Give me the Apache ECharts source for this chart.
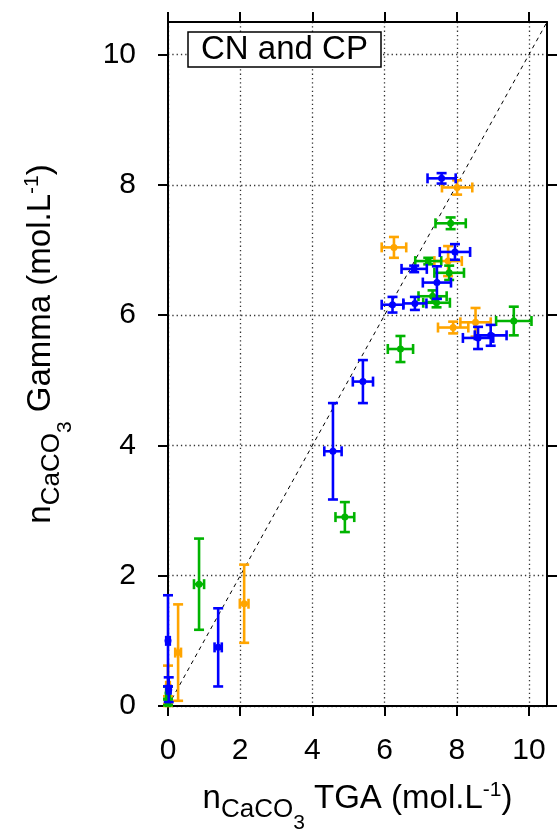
<!DOCTYPE html>
<html>
<head>
<meta charset="utf-8">
<script src="https://cdn.jsdelivr.net/npm/echarts@6/dist/echarts.min.js"></script>
<style>
html, body { margin: 0; padding: 0; background: #fff; }
#chart { width: 557px; height: 831px; }
</style>
</head>
<body>
<div id="chart"></div>
<script>
// tick positions shared by both axes
const tickValues = [0, 2, 4, 6, 8, 10]
const axisRange = [0, 10.5]

// blue series: x (TGA), y (Gamma), x error, y error
const blueX = [7.58, 7.95, 6.82, 7.45, 6.84, 6.22, 8.59, 8.94, 5.40, 4.57, 1.39, 0.00, 0.02]
const blueY = [8.10, 6.97, 6.71, 6.50, 6.18, 6.16, 5.65, 5.69, 4.98, 3.91, 0.90, 1.00, 0.25]
const blueXErr = [0.39, 0.42, 0.35, 0.39, 0.32, 0.30, 0.42, 0.44, 0.28, 0.24, 0.10, 0.05, 0.05]
const blueYErr = [0.08, 0.12, 0.05, 0.25, 0.10, 0.12, 0.17, 0.16, 0.33, 0.74, 0.60, 0.70, 0.19]

// green series
const greenX = [7.83, 7.21, 7.79, 7.33, 7.44, 9.58, 6.44, 4.90, 0.86, 0.00, 0.00]
const greenY = [7.41, 6.83, 6.65, 6.29, 6.19, 5.91, 5.48, 2.90, 1.87, 0.20, 0.06]
const greenXErr = [0.42, 0.36, 0.41, 0.39, 0.37, 0.49, 0.35, 0.26, 0.14, 0.05, 0.05]
const greenYErr = [0.09, 0.05, 0.11, 0.09, 0.07, 0.22, 0.20, 0.23, 0.70, 0.10, 0.05]

// orange series
const orangeX = [8.01, 6.26, 7.76, 7.90, 8.52, 2.11, 0.28, 0.00, 0.00]
const orangeY = [7.96, 7.04, 6.83, 5.81, 5.89, 1.57, 0.82, 0.31, 0.09]
const orangeXErr = [0.42, 0.34, 0.38, 0.42, 0.42, 0.12, 0.08, 0.05, 0.05]
const orangeYErr = [0.11, 0.16, 0.23, 0.09, 0.22, 0.60, 0.74, 0.31, 0.06]

const FONT = 'Liberation Sans, Arial, sans-serif'

function zip (xs, ys, xe, ye) {
  return xs.map((x, i) => [x, ys[i], xe[i], ye[i]])
}

// draws x and y error bars with caps plus a small dot
function renderErrorBar (params, api) {
  const x = api.value(0)
  const y = api.value(1)
  const dx = api.value(2)
  const dy = api.value(3)
  const c = api.coord([x, y])
  const l = api.coord([x - dx, y])
  const r = api.coord([x + dx, y])
  const t = api.coord([x, y + dy])
  const b = api.coord([x, y - dy])
  const cap = 5
  const color = api.visual('color')
  const style = { stroke: color, lineWidth: 2.6, fill: null }
  const seg = (x1, y1, x2, y2) => ({ type: 'line', shape: { x1, y1, x2, y2 }, style })
  return {
    type: 'group',
    children: [
      seg(l[0], c[1], r[0], c[1]),
      seg(l[0], c[1] - cap, l[0], c[1] + cap),
      seg(r[0], c[1] - cap, r[0], c[1] + cap),
      seg(c[0], t[1], c[0], b[1]),
      seg(c[0] - cap, t[1], c[0] + cap, t[1]),
      seg(c[0] - cap, b[1], c[0] + cap, b[1]),
      { type: 'circle', shape: { cx: c[0], cy: c[1], r: 3.5 }, style: { fill: color } }
    ]
  }
}

function errorSeries (name, color, data) {
  return {
    name: name,
    type: 'custom',
    xAxisIndex: 0,
    yAxisIndex: 0,
    color: color,
    encode: { x: 0, y: 1 },
    renderItem: renderErrorBar,
    clip: false,
    data: data,
    z: 3
  }
}

// n_CaCO3 with sub/superscripts, all tokens top-aligned and pushed down by padding
const nameRich = {
  n: { fontSize: 33, lineHeight: 33, verticalAlign: 'top', padding: [4, 0, 0, 0], fontFamily: FONT, color: '#000' },
  sub: { fontSize: 26, lineHeight: 26, verticalAlign: 'top', padding: [19, 0, 0, 0], fontFamily: FONT, color: '#000' },
  sub3: { fontSize: 21, lineHeight: 21, verticalAlign: 'top', padding: [35, 0, 0, 0], fontFamily: FONT, color: '#000' },
  sup: { fontSize: 21, lineHeight: 21, verticalAlign: 'top', padding: [2, 0, 0, 0], fontFamily: FONT, color: '#000' }
}

function mainAxis (extra) {
  return Object.assign({
    type: 'value',
    min: axisRange[0],
    max: axisRange[1],
    interval: 2,
    axisLine: { show: true, onZero: false, lineStyle: { color: '#000', width: 2 } },
    axisTick: { show: true, length: 10, customValues: tickValues, lineStyle: { color: '#000', width: 2 } },
    axisLabel: { show: true, customValues: tickValues, fontSize: 30, fontFamily: FONT, color: '#000' },
    splitLine: { show: true, lineStyle: { color: '#333', width: 1.3, type: [1.3, 3] } }
  }, extra)
}

function mirrorAxis (position) {
  return {
    type: 'value',
    position: position,
    min: axisRange[0],
    max: axisRange[1],
    interval: 2,
    axisLine: { show: true, onZero: false, lineStyle: { color: '#000', width: 2 } },
    axisTick: { show: true, length: 10, customValues: tickValues, lineStyle: { color: '#000', width: 2 } },
    axisLabel: { show: false },
    splitLine: { show: false }
  }
}

const chart = echarts.init(document.getElementById('chart'), null, { renderer: 'canvas' })

chart.setOption({
  animation: false,
  backgroundColor: '#fff',
  title: {
    text: 'CN and CP',
    left: 188,
    top: 32,
    padding: [1, 13, 1, 13],
    borderColor: '#000',
    borderWidth: 1.5,
    backgroundColor: '#fff',
    textStyle: { fontSize: 33, fontWeight: 'normal', lineHeight: 33, fontFamily: FONT, color: '#000' },
    z: 10
  },
  grid: { left: 168, right: 10, top: 22, bottom: 125, outerBoundsMode: 'none', containLabel: false },
  xAxis: [
    mainAxis({
      position: 'bottom',
      name: '{n|n}{sub|CaCO}{sub3|3}{n| TGA (mol.L}{sup|-1}{n|)}',
      nameLocation: 'middle',
      nameGap: 72,
      nameTextStyle: { rich: nameRich },
      axisLabel: { show: true, customValues: tickValues, margin: 30, fontSize: 30, fontFamily: FONT, color: '#000' }
    }),
    mirrorAxis('top')
  ],
  yAxis: [
    mainAxis({
      position: 'left',
      name: '{n|n}{sub|CaCO}{sub3|3}{n| Gamma (mol.L}{sup|-1}{n|)}',
      nameLocation: 'middle',
      nameRotate: 90,
      nameGap: 115,
      nameTextStyle: { rich: nameRich, padding: [0, 0, 0, 40] },
      axisLabel: { show: true, customValues: tickValues, margin: 32, fontSize: 30, fontFamily: FONT, color: '#000' }
    }),
    mirrorAxis('right')
  ],
  series: [
    {
      name: 'y = x',
      type: 'line',
      data: [[axisRange[0], axisRange[0]], [axisRange[1], axisRange[1]]],
      symbol: 'none',
      lineStyle: { color: '#000', width: 1, type: [4, 4] },
      z: 2,
      silent: true
    },
    errorSeries('orange', '#ffa500', zip(orangeX, orangeY, orangeXErr, orangeYErr)),
    errorSeries('green', '#00b400', zip(greenX, greenY, greenXErr, greenYErr)),
    errorSeries('blue', '#0000ff', zip(blueX, blueY, blueXErr, blueYErr))
  ]
})
</script>
</body>
</html>
